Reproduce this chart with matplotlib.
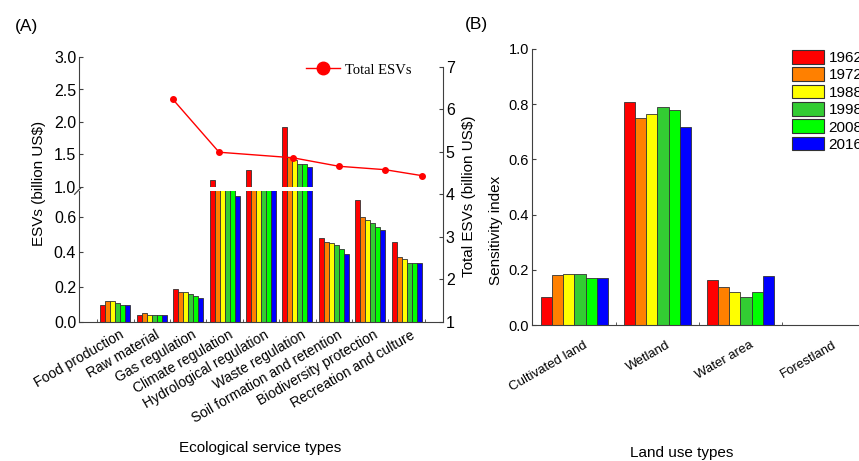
import matplotlib
matplotlib.use('Agg')
import matplotlib.pyplot as plt
from matplotlib.patches import Patch
from matplotlib.lines import Line2D
import numpy as np

plt.rcParams['font.family'] = ['Liberation Sans', 'DejaVu Sans']

# 年份与配色
years = ['1962', '1972', '1988', '1998', '2008', '2016']
colors = ['#FF0000', '#FF8000', '#FFFF00', '#33CC33', '#00FF00', '#0000FF']

# (A) 各生态服务类型的ESV (billion US$)
services = ['Food production', 'Raw material', 'Gas regulation', 'Climate regulation',
            'Hydrological regulation', 'Waste regulation', 'Soil formation and retention',
            'Biodiversity protection', 'Recreation and culture']
esv_1962 = [0.10, 0.04, 0.19, 1.11, 1.26, 1.93, 0.48, 0.70, 0.46]
esv_1972 = [0.12, 0.05, 0.17, 0.90, 0.90, 1.46, 0.46, 0.60, 0.37]
esv_1988 = [0.12, 0.04, 0.17, 0.90, 0.90, 1.41, 0.45, 0.585, 0.36]
esv_1998 = [0.11, 0.04, 0.16, 0.88, 0.88, 1.36, 0.44, 0.565, 0.34]
esv_2008 = [0.10, 0.04, 0.15, 0.86, 0.88, 1.35, 0.42, 0.545, 0.34]
esv_2016 = [0.10, 0.04, 0.14, 0.72, 0.85, 1.31, 0.39, 0.525, 0.34]

# 总ESV
total_years = [1962, 1972, 1988, 1998, 2008, 2016]
total_esv = [6.23, 4.99, 4.86, 4.66, 4.58, 4.44]

# (B) 敏感性指数
land_types = ['Cultivated land', 'Wetland', 'Water area', 'Forestland']
si_1962 = [0.103, 0.809, 0.163, 0.0]
si_1972 = [0.181, 0.751, 0.138, 0.0]
si_1988 = [0.186, 0.763, 0.121, 0.0]
si_1998 = [0.184, 0.789, 0.100, 0.0]
si_2008 = [0.170, 0.778, 0.121, 0.0]
si_2016 = [0.170, 0.717, 0.179, 0.0]

W, H = 859, 461
spine_c = '#404040'


def box(l, t, r, b):
    """像素坐标 -> figure坐标"""
    return [l / W, 1 - b / H, (r - l) / W, (b - t) / H]


def draw_bars(ax, values, width):
    x = np.arange(len(values[0]))
    for j, vals in enumerate(values):
        ax.bar(x + (j - 2.5) * width, vals, width, color=colors[j],
               edgecolor='#333333', linewidth=0.6)


fig = plt.figure(figsize=(W / 100, H / 100), dpi=100)

# ---------- (A) ----------
esv_all = [esv_1962, esv_1972, esv_1988, esv_1998, esv_2008, esv_2016]
ax_lo = fig.add_axes(box(79, 191, 443, 322))
ax_hi = fig.add_axes(box(79, 57, 443, 187))
for ax in (ax_lo, ax_hi):
    draw_bars(ax, esv_all, 0.137)
    ax.set_xlim(-1, 9)
    ax.spines['top'].set_visible(False)
    ax.spines['right'].set_visible(False)
    for s in ax.spines.values():
        s.set_color(spine_c)
    ax.tick_params(axis='y', direction='in', length=3, pad=2, labelsize=11.5, color=spine_c)

ax_lo.set_ylim(0, 0.75)
ax_lo.set_yticks([0, 0.2, 0.4, 0.6])
ax_lo.set_yticklabels(['0.0', '0.2', '0.4', '0.6'])
ax_lo.set_xticks(np.arange(9) + 0.19)
ax_lo.set_xticklabels(services, rotation=30, ha='right', va='center',
                      rotation_mode='anchor', fontsize=10)
ax_lo.tick_params(axis='x', which='major', length=0, pad=8.5)
ax_lo.set_xticks(np.arange(10) - 0.5, minor=True)
ax_lo.tick_params(axis='x', which='minor', direction='in', length=2.5, color=spine_c)

ax_hi.set_ylim(1.0, 3.0)
ax_hi.set_yticks([1.0, 1.5, 2.0, 2.5, 3.0])
ax_hi.set_yticklabels(['1.0', '1.5', '2.0', '2.5', '3.0'])
ax_hi.spines['bottom'].set_visible(False)
ax_hi.set_xticks([])

# 断轴标记
ax_lo.plot([-0.012, 0.012], [0.975, 1.045], transform=ax_lo.transAxes,
           color=spine_c, lw=0.9, clip_on=False)

# 总ESV折线 (右轴)
ax_t = fig.add_axes(box(79, 66.7, 443, 322))
ax_t.patch.set_visible(False)
ax_t.plot(total_years, total_esv, color='#FF0000', lw=1, marker='o', markersize=4)
ax_t.set_xlim(1941.6, 2020.6)
ax_t.set_ylim(1, 7)
ax_t.set_xticks([])
ax_t.yaxis.tick_right()
ax_t.tick_params(axis='y', direction='in', length=3, pad=2, labelsize=11.5, color=spine_c)
for k in ['top', 'bottom', 'left']:
    ax_t.spines[k].set_visible(False)
ax_t.spines['right'].set_color(spine_c)

h = Line2D([], [], color='#FF0000', lw=1, marker='o', markersize=9)
fig.legend(handles=[h], labels=['Total ESVs'], loc='center left',
           bbox_to_anchor=(306 / W, 1 - 70 / H), frameon=False, borderpad=0,
           borderaxespad=0, handlelength=2.3, handletextpad=0.4,
           prop={'family': 'Liberation Serif', 'size': 10.5})

fig.text(15 / W, 1 - 27 / H, '(A)', fontsize=12.5, va='center')
fig.text(39 / W, 1 - 183 / H, 'ESVs (billion US$)', rotation=90, fontsize=11,
         ha='center', va='center')
fig.text(469 / W, 1 - 196 / H, 'Total ESVs (billion US$)', rotation=90, fontsize=11,
         ha='center', va='center')
fig.text(260 / W, 1 - 448 / H, 'Ecological service types', fontsize=11,
         ha='center', va='center')

# ---------- (B) ----------
si_all = [si_1962, si_1972, si_1988, si_1998, si_2008, si_2016]
ax_b = fig.add_axes(box(532, 49, W, 325))
draw_bars(ax_b, si_all, 0.135)
ax_b.set_xlim(-0.51, 3.43)
ax_b.set_ylim(0, 1.0)
ax_b.set_yticks([0, 0.2, 0.4, 0.6, 0.8, 1.0])
ax_b.set_yticklabels(['0.0', '0.2', '0.4', '0.6', '0.8', '1.0'])
ax_b.tick_params(axis='y', direction='in', length=3, pad=2, labelsize=10.5, color=spine_c)
ax_b.set_xticks(np.arange(4) + 0.15)
ax_b.set_xticklabels(land_types, rotation=30, ha='right', va='center',
                     rotation_mode='anchor', fontsize=9.5)
ax_b.tick_params(axis='x', which='major', length=0, pad=14)
ax_b.set_xticks(np.arange(1, 4) - 0.5, minor=True)
ax_b.tick_params(axis='x', which='minor', direction='in', length=2.5, color=spine_c)
ax_b.spines['top'].set_visible(False)
ax_b.spines['right'].set_visible(False)
for s in ax_b.spines.values():
    s.set_color(spine_c)

handles = [Patch(facecolor=c, edgecolor='#333333', linewidth=0.8) for c in colors]
fig.legend(handles=handles, labels=years, loc='upper left',
           bbox_to_anchor=(792 / W, 1 - 50 / H), frameon=False, borderpad=0,
           borderaxespad=0, handlelength=2.1, handleheight=1.0, labelspacing=0.15,
           handletextpad=0.3, fontsize=11)

fig.text(465 / W, 1 - 24 / H, '(B)', fontsize=12.5, va='center')
fig.text(496 / W, 1 - 230 / H, 'Sensitivity index', rotation=90, fontsize=11,
         ha='center', va='center')
fig.text(682 / W, 1 - 453 / H, 'Land use types', fontsize=11,
         ha='center', va='center')

fig.savefig('out.png', dpi=100)
